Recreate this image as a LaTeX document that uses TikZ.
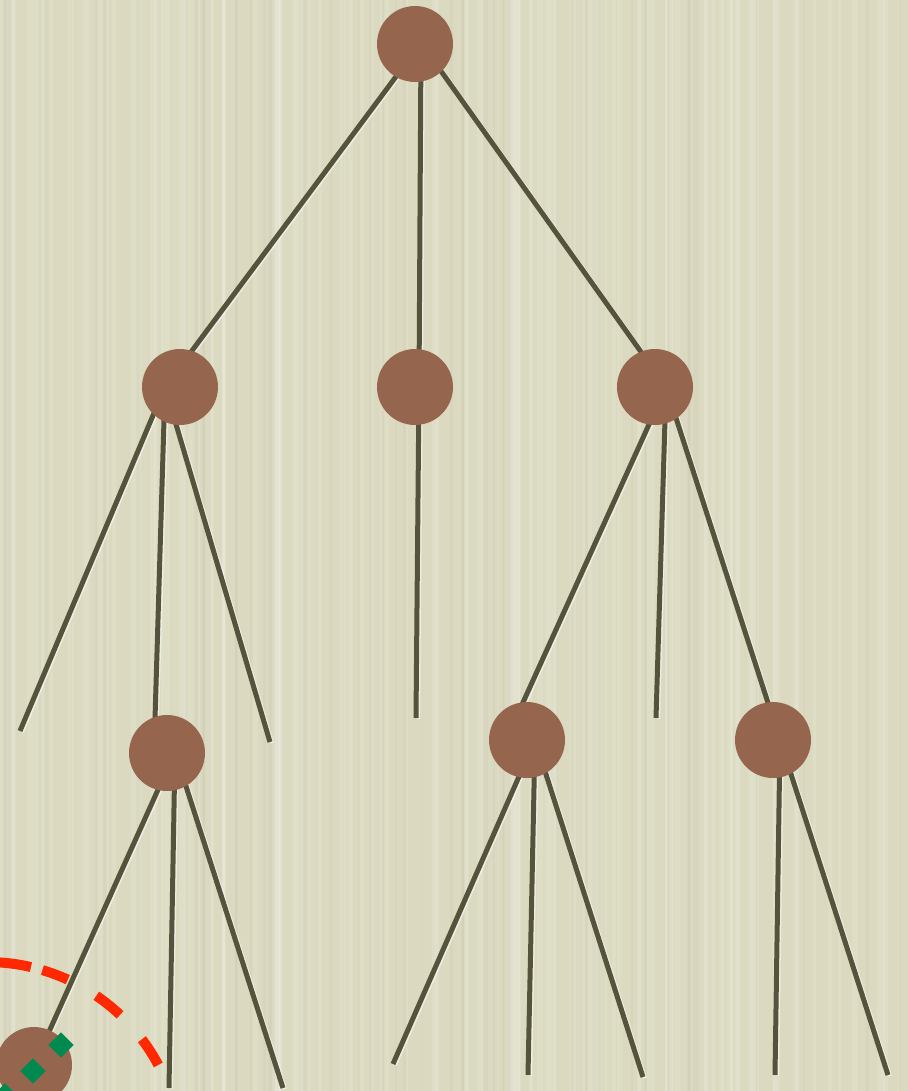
\documentclass[tikz,border=0pt]{standalone}
\usepackage{tikz}
\usetikzlibrary{calc}
\definecolor{paper}{RGB}{219,217,192}
\definecolor{twig}{RGB}{86,83,60}
\definecolor{nutbrown}{RGB}{150,101,77}
\definecolor{ringred}{RGB}{255,40,0}
\definecolor{gemgreen}{RGB}{0,138,80}

\begin{document}
\begin{tikzpicture}[
    x=0.02cm, y=-0.02cm,
    branch/.style={twig, line width=0.1cm},
    glint/.style={white, opacity=0.55, line width=0.08cm},
    ball/.style={circle, fill=nutbrown, minimum size=1.52cm, inner sep=0pt},
    gem/.style={rectangle, fill=gemgreen, minimum size=0.36cm, inner sep=0pt, rotate=45},
    ring/.style={ringred, line width=0.2cm}
]

    % Paper
    \useasboundingbox (0,0) rectangle (908,1091);
    \clip (0,0) rectangle (908,1091);
    \fill[paper] (0,0) rectangle (908,1091);
    \pgfmathsetseed{11}
    \foreach \s in {1,...,140} {
        \pgfmathsetmacro{\xs}{rnd*908}
        \pgfmathsetmacro{\ws}{0.03+rnd*0.08}
        \draw[white, opacity=0.11, line width=\ws cm] (\xs,0) -- (\xs,1091);
    }
    \foreach \s in {1,...,60} {
        \pgfmathsetmacro{\xs}{rnd*908}
        \draw[black!40, opacity=0.06, line width=0.05cm] (\xs,0) -- (\xs,1091);
    }

    % Hubs where the branches meet
    \coordinate (root-hub) at (421,43);
    \coordinate (a-hub) at (165,387);
    \coordinate (b-hub) at (419,387);
    \coordinate (c-hub) at (666,387);
    \coordinate (d-in) at (154,752);
    \coordinate (d-hub) at (175,752);
    \coordinate (e-in) at (506,740);
    \coordinate (e-hub) at (535,740);
    \coordinate (f-hub) at (780,740);
    \coordinate (g-hub) at (34,1065);

    % Bare ends
    \coordinate (a-leaf1) at (20,731);
    \coordinate (a-leaf2) at (270,742);
    \coordinate (b-leaf) at (416,718);
    \coordinate (c-leaf) at (656,718);
    \coordinate (d-leaf1) at (169,1088);
    \coordinate (d-leaf2) at (283,1088);
    \coordinate (e-leaf1) at (393,1064);
    \coordinate (e-leaf2) at (528,1075);
    \coordinate (e-leaf3) at (643,1077);
    \coordinate (f-leaf1) at (775,1075);
    \coordinate (f-leaf2) at (888,1075);

    % Branches
    \foreach \p/\q in {root-hub/a-hub, root-hub/b-hub, root-hub/c-hub,
                       a-hub/a-leaf1, a-hub/d-in, a-hub/a-leaf2,
                       b-hub/b-leaf,
                       c-hub/e-in, c-hub/c-leaf, c-hub/f-hub,
                       d-hub/g-hub, d-hub/d-leaf1, d-hub/d-leaf2,
                       e-hub/e-leaf1, e-hub/e-leaf2, e-hub/e-leaf3,
                       f-hub/f-leaf1, f-hub/f-leaf2} {
        \draw[glint] ($(\p)+(2,1)$) -- ($(\q)+(2,1)$);
        \draw[branch] (\p) -- (\q);
    }

    % Nodes
    \node[ball] (root) at (415,44) {};
    \node[ball] (a) at (180,387) {};
    \node[ball] (b) at (415,387) {};
    \node[ball] (c) at (655,387) {};
    \node[ball] (d) at (167,753) {};
    \node[ball] (e) at (527,740) {};
    \node[ball] (f) at (773,740) {};
    \node[ball] (g) at (34,1065) {};

    % Marks on the last node
    \node[gem] (gem1) at (61,1045) {};
    \node[gem] (gem2) at (33,1071) {};
    \node[gem] (gem3) at (5,1096) {};

    % Dashed ring
    \coordinate (ring-c) at (-13,1156);
    \draw[ring, dash pattern=on 0.61cm off 0.656cm]
        ($(ring-c)+(-28:194)$) arc (-28:-73.4:194);
    \draw[ring] ($(ring-c)+(-76.9:194)$) arc (-76.9:-96:194);

\end{tikzpicture}
\end{document}
